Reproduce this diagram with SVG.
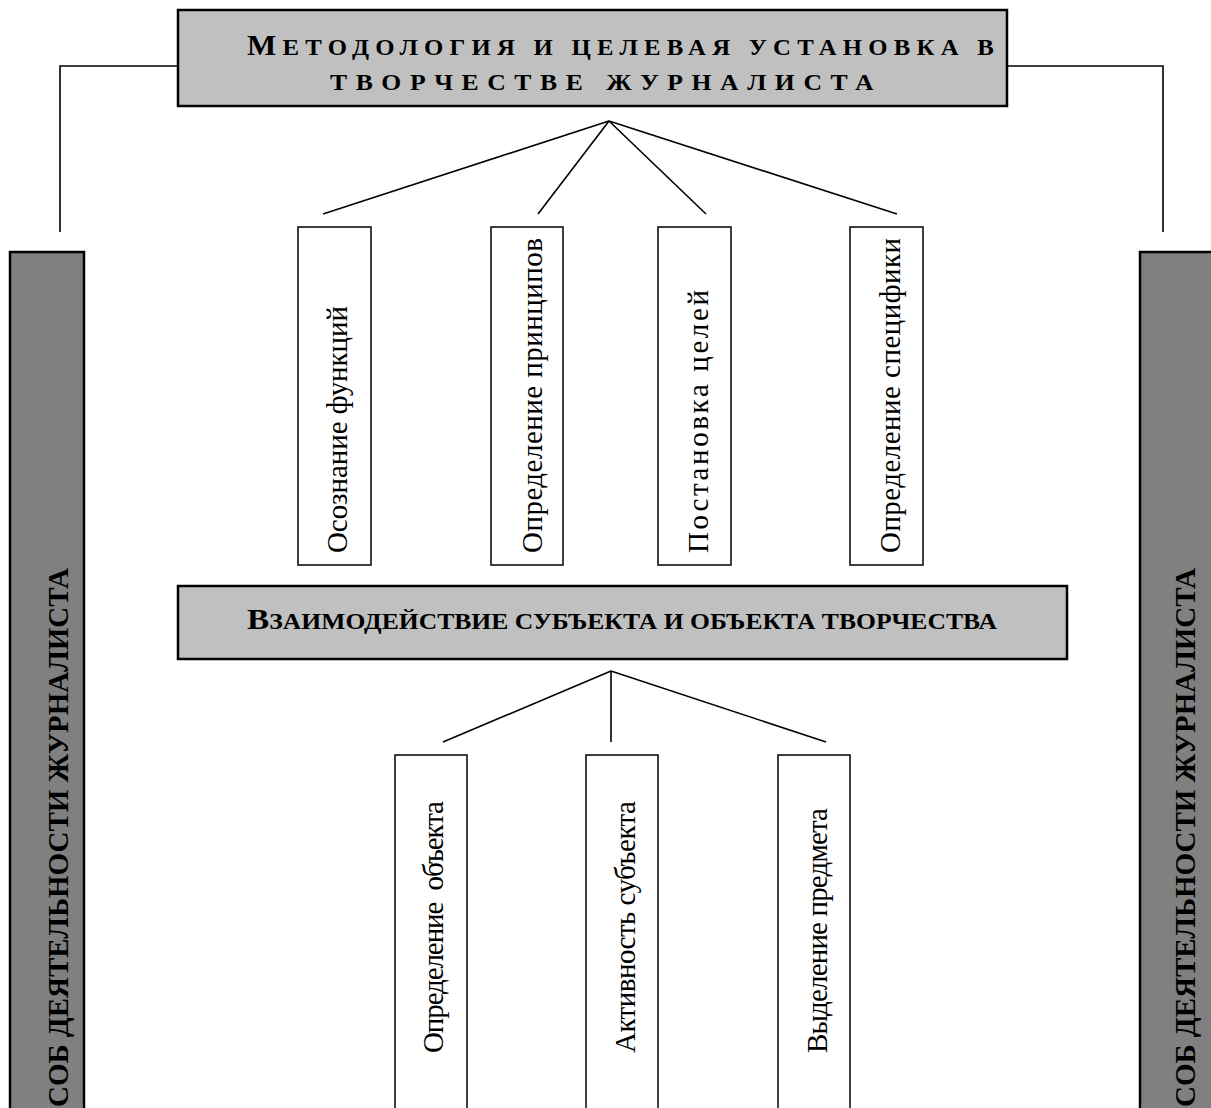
<svg xmlns="http://www.w3.org/2000/svg" width="1211" height="1108" viewBox="0 0 1211 1108">
<style>
.hdr{fill:#c0c0c0;stroke:#000;stroke-width:2.5}
.side{fill:#808080;stroke:#000;stroke-width:2.5}
.node{fill:#fff;stroke:#000;stroke-width:1.5}
.conn{fill:none;stroke:#000;stroke-width:1.6}
.bt{font-family:"Liberation Serif","Times New Roman",serif;font-weight:bold;fill:#000}
.nt{font-family:"Liberation Serif","Times New Roman",serif;font-size:29px;fill:#000}
</style>
<rect width="1211" height="1108" fill="#fff"/>
<g id="connectors">
<polyline class="conn" points="60,232 60,66 178,66"/>
<polyline class="conn" points="1163,232 1163,66 1007,66"/>
<line class="conn" x1="609" y1="121" x2="323" y2="214"/>
<line class="conn" x1="609" y1="121" x2="538" y2="214"/>
<line class="conn" x1="609" y1="121" x2="706" y2="214"/>
<line class="conn" x1="609" y1="121" x2="897" y2="214"/>
<line class="conn" x1="611" y1="671" x2="443" y2="742"/>
<line class="conn" x1="611" y1="671" x2="611" y2="742"/>
<line class="conn" x1="611" y1="671" x2="826" y2="742"/>
</g>
<g id="title">
<rect class="hdr" x="178" y="10" width="829" height="96"/>
<text class="bt" x="247" y="55" font-size="24" letter-spacing="6" textLength="753" lengthAdjust="spacingAndGlyphs"><tspan font-size="30">М</tspan>ЕТОДОЛОГИЯ И ЦЕЛЕВАЯ УСТАНОВКА В</text>
<text class="bt" x="330" y="90" font-size="24" letter-spacing="8" textLength="552" lengthAdjust="spacingAndGlyphs">ТВОРЧЕСТВЕ ЖУРНАЛИСТА</text>
</g>
<g id="side-left">
<rect class="side" x="10" y="252" width="74" height="870"/>
<text class="bt" font-size="30" transform="translate(68,1107) rotate(-90)" textLength="539" lengthAdjust="spacingAndGlyphs">СОБ ДЕЯТЕЛЬНОСТИ ЖУРНАЛИСТА</text>
</g>
<g id="side-right">
<rect class="side" x="1140" y="252" width="80" height="870"/>
<text class="bt" font-size="30" transform="translate(1195,1107) rotate(-90)" textLength="539" lengthAdjust="spacingAndGlyphs">СОБ ДЕЯТЕЛЬНОСТИ ЖУРНАЛИСТА</text>
</g>
<g id="n1">
<rect class="node" x="298" y="227" width="73" height="338"/>
<text class="nt" transform="translate(347,553) rotate(-90)" textLength="247" lengthAdjust="spacing">Осознание функций</text>
</g>
<g id="n2">
<rect class="node" x="491" y="227" width="72" height="338"/>
<text class="nt" transform="translate(542,553) rotate(-90)" textLength="315" lengthAdjust="spacing">Определение принципов</text>
</g>
<g id="n3">
<rect class="node" x="658" y="227" width="73" height="338"/>
<text class="nt" transform="translate(708,553) rotate(-90)" textLength="263" lengthAdjust="spacing">Постановка целей</text>
</g>
<g id="n4">
<rect class="node" x="850" y="227" width="73" height="338"/>
<text class="nt" transform="translate(900,553) rotate(-90)" textLength="315" lengthAdjust="spacing">Определение специфики</text>
</g>
<g id="middle">
<rect class="hdr" x="178" y="586" width="889" height="73"/>
<text class="bt" x="247" y="629" font-size="23" textLength="750" lengthAdjust="spacingAndGlyphs"><tspan font-size="30">В</tspan>ЗАИМОДЕЙСТВИЕ СУБЪЕКТА И ОБЪЕКТА ТВОРЧЕСТВА</text>
</g>
<g id="m1">
<rect class="node" x="395" y="755" width="72" height="370"/>
<text class="nt" transform="translate(443,1053) rotate(-90)" xml:space="preserve" textLength="252" lengthAdjust="spacing">Определение  объекта</text>
</g>
<g id="m2">
<rect class="node" x="586" y="755" width="72" height="370"/>
<text class="nt" transform="translate(635,1053) rotate(-90)" textLength="252" lengthAdjust="spacing">Активность субъекта</text>
</g>
<g id="m3">
<rect class="node" x="778" y="755" width="72" height="370"/>
<text class="nt" transform="translate(827,1053) rotate(-90)" textLength="245" lengthAdjust="spacing">Выделение предмета</text>
</g>
</svg>
